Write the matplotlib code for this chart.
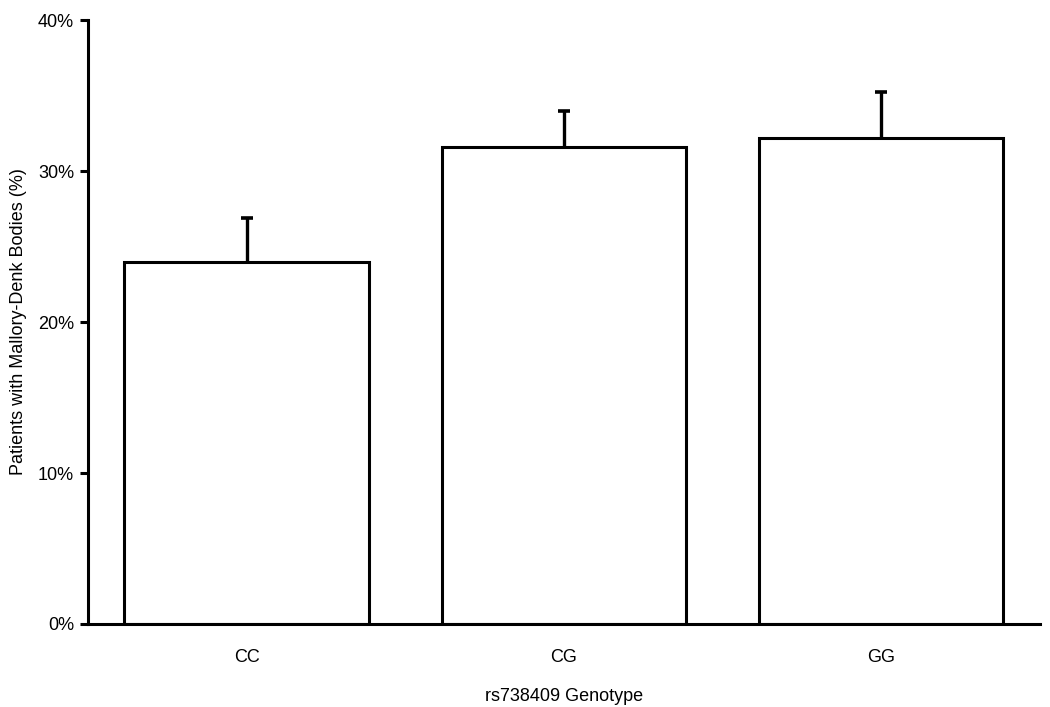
import matplotlib.pyplot as plt
from matplotlib.ticker import PercentFormatter

plt.rcParams['font.family'] = ['Liberation Sans', 'DejaVu Sans']

genotypes = ['CC', 'CG', 'GG']
mdb_pct = [24.0, 31.6, 32.2]
err_upper = [2.9, 2.4, 3.0]

fig = plt.figure(figsize=(10.5, 7.07), dpi=100)
ax = fig.add_axes([0.0838, 0.1174, 0.9062, 0.8543])

x = range(len(genotypes))
ax.bar(x, mdb_pct, width=0.77, color='white', edgecolor='black', linewidth=2.2, zorder=2)
eb = ax.errorbar(x, mdb_pct, yerr=[[0] * 3, err_upper], fmt='none', ecolor='black',
                 elinewidth=2.4, capsize=4, capthick=2.6, zorder=1)
# only keep the upper caps
eb[1][0].set_visible(False)

ax.set_xlim(-0.5, 2.5)
ax.set_ylim(0, 40)
ax.set_yticks([0, 10, 20, 30, 40])
ax.yaxis.set_major_formatter(PercentFormatter(decimals=0))
ax.set_xticks(list(x))
ax.set_xticklabels(genotypes)
ax.tick_params(axis='x', length=0, pad=18, labelsize=13)
ax.tick_params(axis='y', length=6, width=2.2, pad=4, labelsize=13)

for side in ['top', 'right']:
    ax.spines[side].set_visible(False)
for side in ['left', 'bottom']:
    ax.spines[side].set_linewidth(2.2)

ax.set_xlabel('rs738409 Genotype', fontsize=13, labelpad=16)
ax.set_ylabel('Patients with Mallory-Denk Bodies (%)', fontsize=13, labelpad=8)

fig.savefig('out.png', dpi=100)
